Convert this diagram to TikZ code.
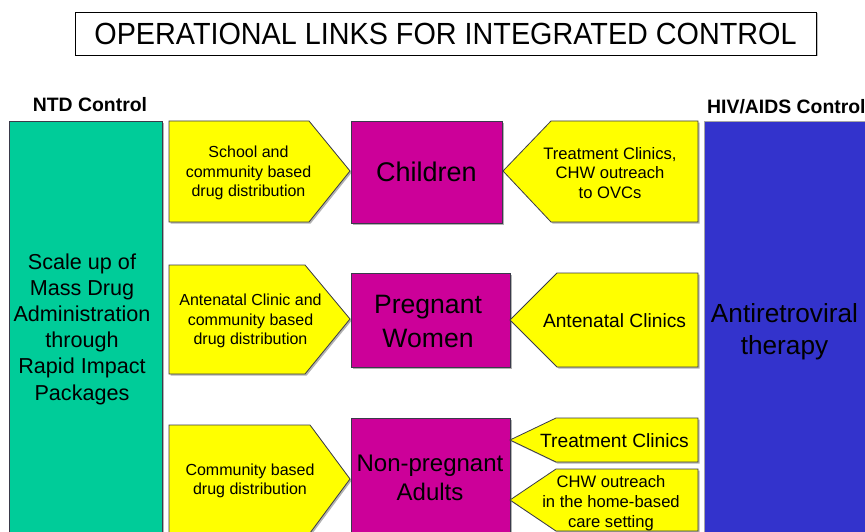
\documentclass[tikz,border=0pt]{standalone}
\usepackage{fontspec}
\setmainfont{Liberation Sans}
\newfontfamily\titlefont[FakeStretch=0.94]{Liberation Sans}
\usetikzlibrary{shadows}
\definecolor{ntdgreen}{HTML}{00CC99}
\definecolor{hivblue}{HTML}{3333CC}
\definecolor{grpmag}{HTML}{CC0099}
\definecolor{linkyel}{HTML}{FFFF00}
\definecolor{edge}{HTML}{3A3A4A}
\tikzset{
  shp/.style={draw=edge, line width=0.8pt, drop shadow={shadow xshift=1.6pt, shadow yshift=-1.6pt, fill=black, opacity=.3}},
  yel/.style={shp, fill=linkyel},
  mag/.style={shp, fill=grpmag},
  ytxt/.style={align=center, inner sep=0pt, font=\fontsize{16}{19.5}\selectfont},
  mtxt/.style={align=center, inner sep=0pt},
  head/.style={inner sep=0pt, font=\fontsize{19.4}{22}\selectfont\bfseries}
}
\begin{document}
\begin{tikzpicture}[x=1pt,y=-1pt]
\useasboundingbox (0,0) rectangle (865,532);
\clip (0,0) rectangle (865,532);
\fill[white] (0,0) rectangle (865,532);
% title
\node[draw=black, line width=0.8pt, fill=white, minimum width=741pt, minimum height=43pt, inner sep=0pt,
      drop shadow={shadow xshift=1.5pt, shadow yshift=-1.5pt, fill=black, opacity=.25},
      font=\titlefont\fontsize{30.6}{34}\selectfont] (title) at (445.5,33.5) {OPERATIONAL LINKS FOR INTEGRATED CONTROL};
% headings
\node[head, anchor=base] (ntdhead) at (90,112) {NTD Control};
\node[head, anchor=base west] (hivhead) at (707,113.5) {HIV/AIDS Control};
% side columns
\draw[shp, fill=ntdgreen] (9,121) rectangle (162,545);
\draw[shp, fill=hivblue, draw=gray!70] (704,121) rectangle (880,545);
\node[mtxt, font=\fontsize{21.6}{26.2}\selectfont] (ntd) at (82,329)
  {Scale up of\\Mass Drug\\Administration\\through\\Rapid Impact\\Packages};
\node[mtxt, font=\fontsize{26.2}{32}\selectfont] (art) at (784.5,331.5)
  {Antiretroviral\\therapy};
% left arrows
\draw[yel] (169,121) -- (309,121) -- (350,171) -- (309,222) -- (169,222) -- cycle;
\node[ytxt] (l1) at (248.5,173) {School and\\community based\\drug distribution};
\draw[yel] (169,265) -- (305,265) -- (350,319) -- (305,374) -- (169,374) -- cycle;
\node[ytxt] (l2) at (250.5,321) {Antenatal Clinic and\\community based\\drug distribution};
\draw[yel] (169,425) -- (310,425) -- (350,479) -- (310,533) -- (169,533) -- cycle;
\node[ytxt] (l3) at (250,481) {Community based\\drug distribution};
% groups
\draw[mag] (351,121) rectangle (502,223);
\node[mtxt, font=\fontsize{27}{32}\selectfont] (children) at (426.5,172) {Children};
\draw[mag] (351,273) rectangle (510,367);
\node[mtxt, font=\fontsize{26.6}{33.5}\selectfont] (pregnant) at (428,321.5) {Pregnant\\Women};
\draw[mag] (351,418) rectangle (510,560);
\node[mtxt, font=\fontsize{24}{28.5}\selectfont] (adults) at (430,478) {Non-pregnant\\Adults};
% right arrows
\draw[yel] (503,171) -- (551,121) -- (698,121) -- (698,222) -- (551,222) -- cycle;
\node[ytxt, font=\fontsize{16.6}{19.5}\selectfont] (r1) at (610,173) {Treatment Clinics,\\CHW outreach\\to OVCs};
\draw[yel] (510,320) -- (557,273) -- (698,273) -- (698,367) -- (557,367) -- cycle;
\node[ytxt, font=\fontsize{19.2}{22}\selectfont] (r2) at (614.5,321) {Antenatal Clinics};
\draw[yel] (510,440) -- (556,418) -- (698,418) -- (698,462) -- (556,462) -- cycle;
\node[ytxt, font=\fontsize{19.2}{22}\selectfont] (r3) at (614.5,441) {Treatment Clinics};
\draw[yel] (510,500) -- (556,469) -- (698,469) -- (698,531) -- (556,531) -- cycle;
\node[ytxt, font=\fontsize{16.6}{20}\selectfont] (r4) at (611,503) {CHW outreach\\in the home-based\\care setting};
\end{tikzpicture}
\end{document}
